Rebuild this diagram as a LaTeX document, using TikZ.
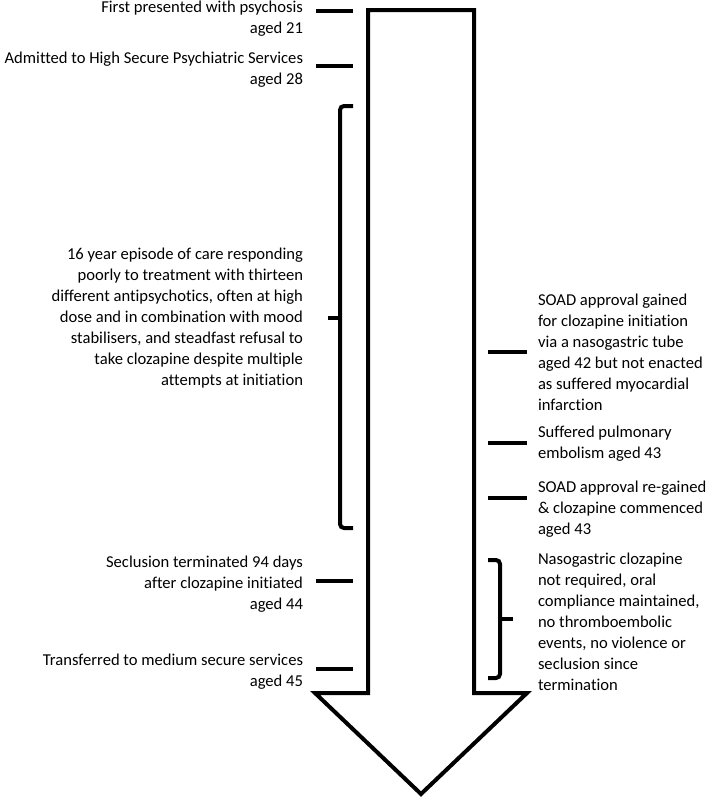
\documentclass[tikz,border=0pt]{standalone}
\usepackage{fontspec}
\setmainfont{Carlito}[Ligatures=NoCommon]
\usetikzlibrary{positioning}

\begin{document}
\begin{tikzpicture}[x=1pt, y=-1pt, line width=4pt,
        lefttext/.style={anchor=east, align=right},
        righttext/.style={anchor=west, align=left}]
    \tikzstyle{every node}=[font=\fontsize{16.6}{21}\selectfont, inner sep=0pt]
    \useasboundingbox (0,0) rectangle (709,801);

    % timeline arrow
    \draw[miter limit=10] (368,10) -- (474,10) -- (474,693) -- (527,693)
        -- (421,794) -- (315,693) -- (368,693) -- cycle;

    % events on the left
    \node[lefttext] (psychosis) at (305,19) {First presented with psychosis\\aged 21};
    \node[lefttext] (admitted) at (305,70) {Admitted to High Secure Psychiatric Services\\aged 28};
    \node[lefttext] (episode) at (305,318) {16 year episode of care responding\\poorly to treatment with thirteen\\different antipsychotics, often at high\\dose and in combination with mood\\stabilisers, and steadfast refusal to\\take clozapine despite multiple\\attempts at initiation};
    \node[lefttext] (seclusion) at (305,584) {Seclusion terminated 94 days\\after clozapine initiated\\aged 44};
    \node[lefttext] (transfer) at (305,672) {Transferred to medium secure services\\aged 45};

    % events on the right
    \node[righttext] (soad) at (536,352) {SOAD approval gained\\for clozapine initiation\\via a nasogastric tube\\aged 42 but not enacted\\as suffered myocardial\\infarction};
    \node[righttext] (embolism) at (536,444) {Suffered pulmonary\\embolism aged 43};
    \node[righttext] (regained) at (536,509) {SOAD approval re-gained\\\& clozapine commenced\\aged 43};
    \node[righttext] (outcome) at (536,622) {Nasogastric clozapine\\not required, oral\\compliance maintained,\\no thromboembolic\\events, no violence or\\seclusion since\\termination};

    % ticks
    \foreach \y in {11,66,581,669}
        \draw (316,\y) -- (353,\y);
    \foreach \y in {352,443,498}
        \draw (488,\y) -- (527,\y);

    % braces
    \draw[rounded corners=4pt] (353,106) -| (340,528) -- (353,528);
    \draw (340,318) -- (328,318);
    \draw[rounded corners=4pt] (488,560) -| (500,678) -- (488,678);
    \draw (500,619) -- (513,619);
\end{tikzpicture}
\end{document}
